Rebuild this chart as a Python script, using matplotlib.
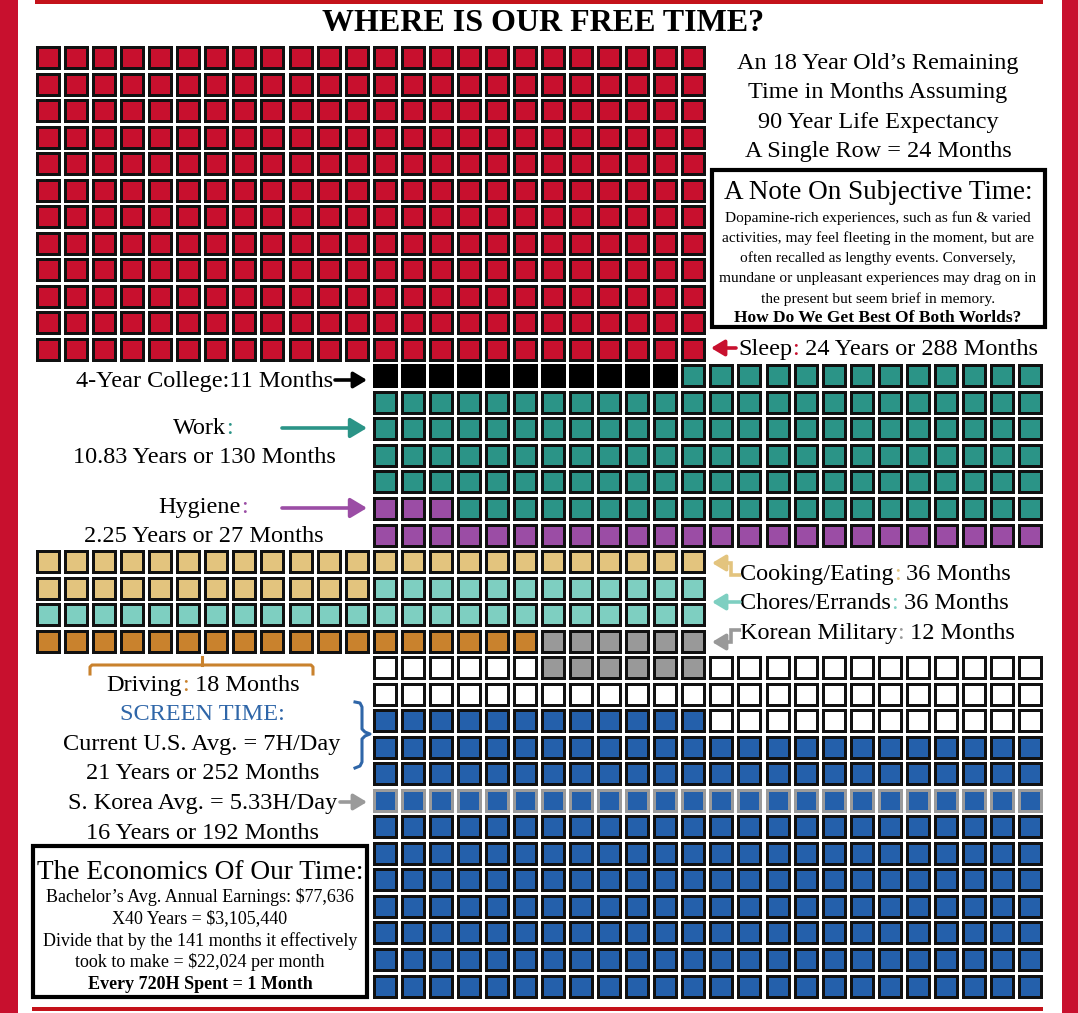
import matplotlib
matplotlib.use('Agg')
import matplotlib.pyplot as plt
from matplotlib.patches import Rectangle

plt.rcParams['font.family'] = ['Liberation Serif', 'DejaVu Serif']

# months of remaining life (age 18 -> 90) per activity
categories = ['Sleep', 'College', 'Work', 'Hygiene', 'Cooking', 'Chores',
              'Driving', 'Military', 'Free', 'Screen']
months = [288, 11, 130, 27, 36, 36, 18, 12, 54, 252]
palette = {'Sleep': '#C8102E', 'College': '#000000', 'Work': '#2B9487',
           'Hygiene': '#9B4DA5', 'Cooking': '#E3C47E', 'Chores': '#7ECFC1',
           'Driving': '#C9822D', 'Military': '#999999', 'Free': '#FFFFFF',
           'Screen': '#2460AB'}

# waffle layout: first column of each row and the runs of cells in it
row_start = [0] * 12 + [12] * 7 + [0] * 4 + [12] * 13
row_runs = ([[('Sleep', 24)]] * 12
            + [[('College', 11), ('Work', 13)]]
            + [[('Work', 24)]] * 4
            + [[('Hygiene', 3), ('Work', 21)]]
            + [[('Hygiene', 24)]]
            + [[('Cooking', 24)]]
            + [[('Cooking', 12), ('Chores', 12)]]
            + [[('Chores', 24)]]
            + [[('Driving', 18), ('Military', 6)]]
            + [[('Free', 6), ('Military', 6), ('Free', 12)]]
            + [[('Free', 24)]]
            + [[('Screen', 12), ('Free', 12)]]
            + [[('Screen', 24)]] * 10)
korea_row = 28  # S. Korea screen time starts here (192 months)

fig = plt.figure(figsize=(10.78, 10.13), dpi=100)
ax = fig.add_axes([0, 0, 1, 1])
ax.set_xlim(0, 1078)
ax.set_ylim(1013, 0)
ax.axis('off')

# frame decorations
red = '#C8102E'
ax.add_patch(Rectangle((0, 0), 18, 1013, color=red, lw=0))
ax.add_patch(Rectangle((1062, 0), 16, 1013, color=red, lw=0))
ax.add_patch(Rectangle((35, 0), 1008, 3.5, color='#C4121A', lw=0))
ax.add_patch(Rectangle((32, 1007), 1011, 4, color='#C4121A', lw=0))

# cells
x0, y0, pw, ph = 35, 45, 28.06, 26.53
cw, ch, bw = 25, 24, 3
for r, (c0, runs) in enumerate(zip(row_start, row_runs)):
    c = c0
    for cat, n in runs:
        for _ in range(n):
            edge = '#9A9A9A' if r == korea_row else '#111111'
            if cat == 'College':
                edge = '#000000'
            cx = round(x0 + c * pw)
            cy = round(y0 + r * ph)
            ax.add_patch(Rectangle((cx + bw / 2, cy + bw / 2),
                                   cw - bw, ch - bw, facecolor=palette[cat],
                                   edgecolor=edge, lw=bw * 0.72))
            c += 1

renderer = fig.canvas.get_renderer()


def rich(x, y, parts, size, ha='left', weight='normal'):
    widths = []
    for s, col in parts:
        t = ax.text(0, 0, s, fontsize=size, weight=weight)
        widths.append(t.get_window_extent(renderer).width)
        t.remove()
    start = x - sum(widths) / 2 if ha == 'center' else x
    for (s, col), w in zip(parts, widths):
        ax.text(start, y, s, color=col, fontsize=size, weight=weight,
                ha='left', va='center')
        start += w


def arrow(x1, y1, x2, y2, col, lw=2.6, hl=0.5, hw=0.3, ms=20):
    ax.annotate('', xy=(x2, y2), xytext=(x1, y1),
                arrowprops=dict(arrowstyle=f'-|>,head_length={hl},head_width={hw}',
                                lw=lw, color=col, mutation_scale=ms,
                                shrinkA=0, shrinkB=0))


k = 'black'
fs = 17.5
ax.text(543, 23, 'WHERE IS OUR FREE TIME?', fontsize=23, weight='bold',
        ha='center', va='center')

header = ['An 18 Year Old\u2019s Remaining', 'Time in Months Assuming',
          '90 Year Life Expectancy', 'A Single Row = 24 Months']
for i, line in enumerate(header):
    ax.text(878, 63 + i * 29.5, line, fontsize=fs, ha='center', va='center')

# note box
ax.add_patch(Rectangle((712, 170), 333, 157, fill=False, lw=3, ec='black'))
ax.text(878, 192, 'A Note On Subjective Time:', fontsize=19.5, ha='center', va='center')
note = ['Dopamine-rich experiences, such as fun & varied',
        'activities, may feel fleeting in the moment, but are',
        'often recalled as lengthy events. Conversely,',
        'mundane or unpleasant experiences may drag on in',
        'the present but seem brief in memory.']
for i, line in enumerate(note):
    ax.text(878, 218 + i * 20.2, line, fontsize=11.1, ha='center', va='center')
ax.text(878, 318, 'How Do We Get Best Of Both Worlds?', fontsize=12.5, weight='bold',
        ha='center', va='center')

# right labels
rich(738, 349, [('Sleep', k), (':', palette['Sleep']), (' 24 Years or 288 Months', k)], fs)
arrow(736, 348, 711, 348, palette['Sleep'], ms=16)

rich(740, 574, [('Cooking/Eating', k), (':', palette['Cooking']), (' 36 Months', k)], fs)
ax.plot([741, 731, 731, 725], [575, 575, 563, 563], color=palette['Cooking'],
        lw=2.6, solid_joinstyle='miter', solid_capstyle='butt')
arrow(727, 563, 712, 563, palette['Cooking'], ms=16)

rich(740, 603, [('Chores/Errands', k), (':', palette['Chores']), (' 36 Months', k)], fs)
arrow(740, 602, 712, 602, palette['Chores'], ms=16)

rich(740, 633, [('Korean Military', k), (':', palette['Military']), (' 12 Months', k)], fs)
ax.plot([741, 731, 731, 725], [630, 630, 642, 642], color=palette['Military'],
        lw=2.6, solid_joinstyle='miter', solid_capstyle='butt')
arrow(727, 642, 712, 642, palette['Military'], ms=16)

# left labels
ax.text(333, 381, '4-Year College:11 Months', fontsize=fs, ha='right', va='center')
arrow(335, 380, 367, 380, 'black', ms=16)

rich(203, 428, [('Work', k), (':', palette['Work'])], fs, ha='center')
ax.text(204, 457, '10.83 Years or 130 Months', fontsize=fs, ha='center', va='center')
arrow(282, 428, 367, 428, palette['Work'])

rich(203, 507, [('Hygiene', k), (':', palette['Hygiene'])], fs, ha='center')
ax.text(204, 536, '2.25 Years or 27 Months', fontsize=fs, ha='center', va='center')
arrow(282, 508, 367, 508, palette['Hygiene'])

# driving bracket
ax.plot([90, 90, 92, 311, 313, 313], [674, 667, 665, 665, 667, 674],
        color=palette['Driving'], lw=2.2)
ax.plot([202, 202], [665, 657], color=palette['Driving'], lw=2.2)
rich(203, 685, [('Driving', k), (':', palette['Driving']), (' 18 Months', k)], fs, ha='center')

ax.text(202, 714, 'SCREEN TIME:', fontsize=fs, color='#2F66A8', ha='center', va='center')
ax.text(202, 744, 'Current U.S. Avg. = 7H/Day', fontsize=fs, ha='center', va='center')
ax.text(203, 773, '21 Years or 252 Months', fontsize=fs, ha='center', va='center')
ax.plot([355, 360, 362, 362, 365, 370, 365, 362, 362, 360, 355],
        [702, 703, 707, 729, 732, 734, 736, 739, 762, 766, 768],
        color='#2F66A8', lw=2.2)

ax.text(203, 803, 'S. Korea Avg. = 5.33H/Day', fontsize=fs, ha='center', va='center')
arrow(340, 802, 367, 802, '#9A9A9A', ms=16)
ax.text(203, 833, '16 Years or 192 Months', fontsize=fs, ha='center', va='center')

# economics box
ax.add_patch(Rectangle((33, 846), 334, 151, fill=False, lw=3, ec='black'))
ax.text(200, 872, 'The Economics Of Our Time:', fontsize=19.7, ha='center', va='center')
econ = ['Bachelor\u2019s Avg. Annual Earnings: $77,636', 'X40 Years = $3,105,440',
        'Divide that by the 141 months it effectively',
        'took to make = $22,024 per month']
for i, line in enumerate(econ):
    ax.text(200, 897 + i * 21.8, line, fontsize=13, ha='center', va='center')
ax.text(200, 984, 'Every 720H Spent = 1 Month', fontsize=13, weight='bold',
        ha='center', va='center')

fig.savefig('out.png', dpi=100)
